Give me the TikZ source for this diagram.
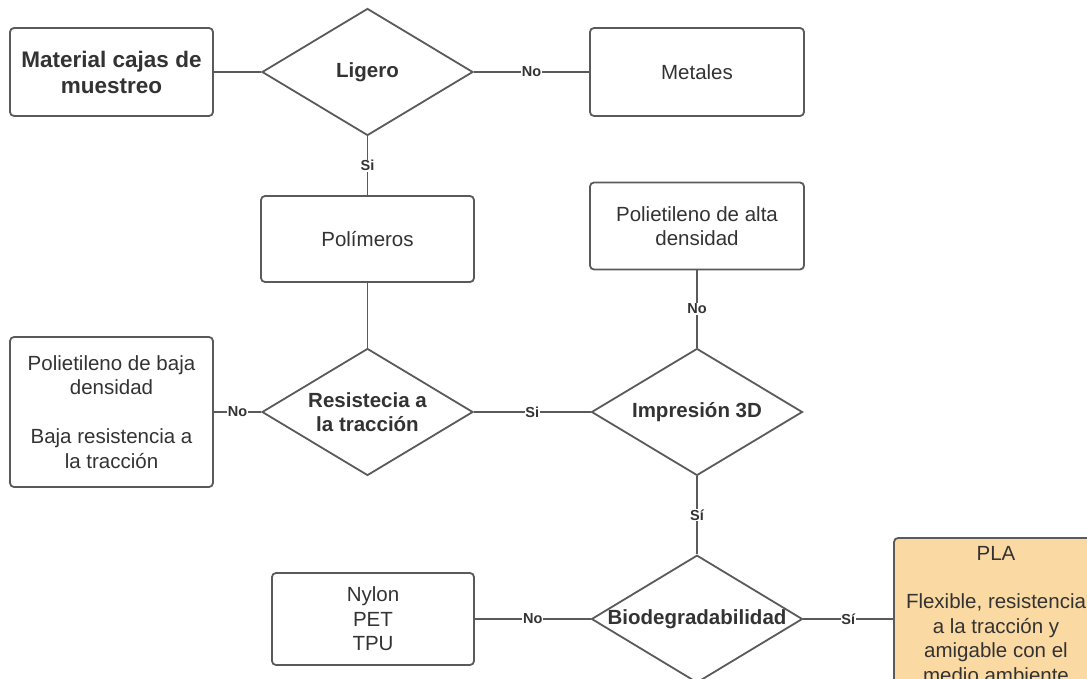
\documentclass[tikz,border=0pt]{standalone}
\usepackage{fontspec}
\setmainfont{Liberation Sans}
\usetikzlibrary{shapes.geometric}

\definecolor{linegray}{HTML}{5A5A5A}
\definecolor{textgray}{HTML}{333333}
\definecolor{plaorange}{HTML}{FBD9A2}

\begin{document}
\begin{tikzpicture}[x=1pt, y=-1pt,
    box/.style={shape=rectangle, draw=linegray, line width=1.8pt, rounded corners=4pt, fill=white,
        text=textgray, align=center, font=\fontsize{20.5}{24.5}\selectfont},
    decision/.style={shape=diamond, draw=linegray, line width=1.8pt, fill=white, text=textgray,
        align=center, inner sep=0pt, shape aspect=1.65, minimum width=211pt, minimum height=127pt,
        font=\fontsize{20.5}{24.5}\selectfont\bfseries},
    conn/.style={draw=linegray, line width=1.7pt},
    lbl/.style={fill=white, inner sep=0.6pt, text=textgray, font=\fontsize{14.5}{16}\selectfont\bfseries}]

        \path[use as bounding box, clip] (0,0) rectangle (1087,679);

        % first row
        \node[box, minimum width=203pt, minimum height=88pt, font=\fontsize{22.5}{26}\selectfont\bfseries] (mat) at (111.5,72) {Material cajas de\\muestreo};
        \node[decision] (ligero) at (367.5,72) {Ligero};
        \node[box, minimum width=214pt, minimum height=88pt] (metales) at (697,72) {Metales};

        % second row
        \node[box, minimum width=213pt, minimum height=86pt] (polimeros) at (367.5,239) {Polímeros};
        \node[box, minimum width=214pt, minimum height=87pt] (alta) at (697,226) {Polietileno de alta\\densidad};

        % third row
        \node[box, minimum width=203pt, minimum height=150pt] (baja) at (111.5,412) {Polietileno de baja\\densidad\\[24.5pt]Baja resistencia a\\la tracción};
        \node[decision] (resist) at (367.5,412) {Resistecia a\\la tracción};
        \node[decision] (impresion) at (697,412) {Impresión 3D};

        % last row
        \node[box, minimum width=202pt, minimum height=92pt] (nylon) at (373,619) {Nylon\\PET\\TPU};
        \node[decision, minimum height=124pt] (bio) at (697,619) {Biodegradabilidad};
        \node[box, fill=plaorange, minimum width=204pt, minimum height=152pt, text depth=0pt] (pla) at (996,614) {PLA\\[24pt]Flexible, resistencia\\a la tracción y\\amigable con el\\medio ambiente};

        \path [conn] (mat) -- (ligero);
        \path [conn] (ligero) edge node[lbl] {No} (metales);
        \path [conn] (ligero) edge node[lbl] {Si} (polimeros);
        \path [conn] (polimeros) -- (resist);
        \path [conn] (resist) edge node[lbl] {No} (baja);
        \path [conn] (resist) edge node[lbl] {Si} (impresion);
        \path [conn] (impresion) edge node[lbl] {No} (alta);
        \path [conn] (impresion) edge node[lbl] {Sí} (bio);
        \path [conn] (bio) edge node[lbl] {No} (nylon);
        \path [conn] (bio.east) edge node[lbl] {Sí} (pla.west |- bio.east);
    \end{tikzpicture}
\end{document}
